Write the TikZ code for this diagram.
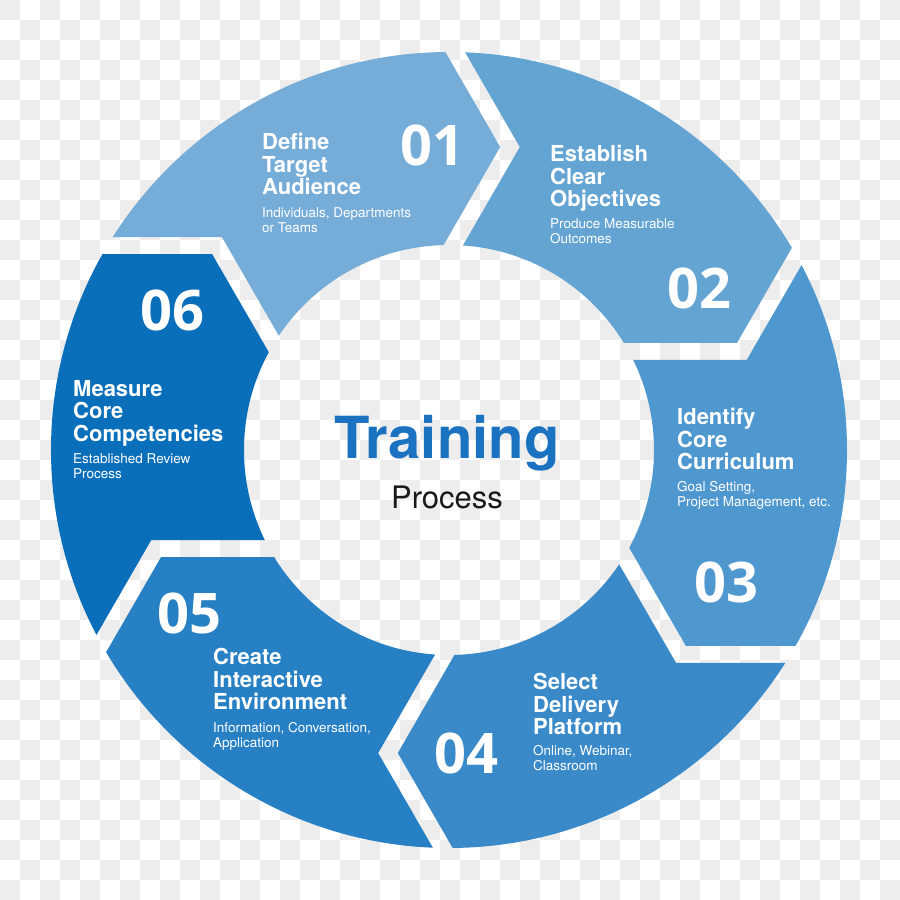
\documentclass[tikz,border=0pt]{standalone}
\usepackage{fontspec}
\setmainfont{TeX Gyre Heros}
\newfontfamily\numfont{Open Sans}
\usetikzlibrary{calc,positioning}

\definecolor{segA}{RGB}{118,172,216}
\definecolor{segB}{RGB}{99,164,211}
\definecolor{segC}{RGB}{79,152,207}
\definecolor{segD}{RGB}{58,138,201}
\definecolor{segE}{RGB}{38,128,195}
\definecolor{segF}{RGB}{10,111,186}
\definecolor{hubblue}{RGB}{26,114,192}

\begin{document}
\begin{tikzpicture}
    [x=1pt, y=1pt,
     ttl/.style={anchor=north west, inner sep=0, align=left, text=white,
        font=\fontsize{22}{22.5}\selectfont\bfseries},
     sub/.style={anchor=north west, inner sep=0, align=left, text=white,
        font=\fontsize{13.5}{15.5}\selectfont},
     num/.style={anchor=north west, inner sep=0, text=white,
        font=\numfont\fontsize{56}{56}\selectfont\bfseries},
    ]
    \useasboundingbox (-449,-450) rectangle (451,450);

    % checkered backdrop
    \fill[white] (-449,-450) rectangle (451,450);
    \foreach \j in {0,...,44}
        \foreach \i in {0,2,...,44}
            \fill[black!7] ({-449+20*(\i+mod(\j,2))}, {-450+20*\j}) rectangle +(20,20);

    % ring of chevron segments
    \begin{scope}
        \clip (398,0) arc[start angle=0, end angle=360, radius=398pt]
            -- (205,0) arc[start angle=360, end angle=0, radius=205pt] -- cycle;
        \foreach \col [count=\k] in {segA,segB,segC,segD,segE,segF} {
            \pgfmathsetmacro\ps{210-60*\k}
            \pgfmathsetmacro\pe{\ps-60}
            \coordinate (ts) at ($(\ps-11.38:309.1)+(\ps-90:9.8)$);
            \coordinate (te) at ($(\pe-11.38:309.1)+(\pe+90:9.8)$);
            \fill[\col] ($(ts)+(\ps+30:200)$) -- (ts) -- ($(ts)+(\ps+150:150)$)
                -- (0,0) -- ($(te)+(\pe+150:150)$) -- (te) -- ($(te)+(\pe+30:200)$)
                -- (\ps-30:600) -- cycle;
        }
    \end{scope}

    \node (t1) [ttl] at (-187,317) {Define\\Target\\Audience};
    \node (s1) [sub] at (-187,243) {Individuals, Departments\\or Teams};
    \node (n1) [num] at (-49,325) {01};

    \node (t2) [ttl] at (101,305) {Establish\\Clear\\Objectives};
    \node (s2) [sub] at (101,232) {Produce Measurable\\Outcomes};
    \node (n2) [num] at (218,182) {02};

    \node (t3) [ttl] at (228,42) {Identify\\Core\\Curriculum};
    \node (s3) [sub] at (228,-31) {Goal Setting,\\Project Management, etc.};
    \node (n3) [num] at (245,-112) {03};

    \node (t4) [ttl] at (84,-223) {Select\\Delivery\\Platform};
    \node (s4) [sub] at (84,-295) {Online, Webinar,\\Classroom};
    \node (n4) [num] at (-15,-283) {04};

    \node (t5) [ttl] at (-236,-198) {Create\\Interactive\\Environment};
    \node (s5) [sub] at (-236,-272) {Information, Conversation,\\Application};
    \node (n5) [num] at (-292,-143) {05};

    \node (t6) [ttl] at (-376,70) {Measure\\Core\\Competencies};
    \node (s6) [sub] at (-376,-3) {Established Review\\Process};
    \node (n6) [num] at (-309,160) {06};

    \node (training) [anchor=base, inner sep=0, text=hubblue,
        font=\fontsize{58}{58}\selectfont\bfseries] at (-2,-8) {Training};
    \node (process) [below=15pt of training, inner sep=0, text=black!90,
        font=\fontsize{31}{31}\selectfont] {Process};
\end{tikzpicture}
\end{document}
